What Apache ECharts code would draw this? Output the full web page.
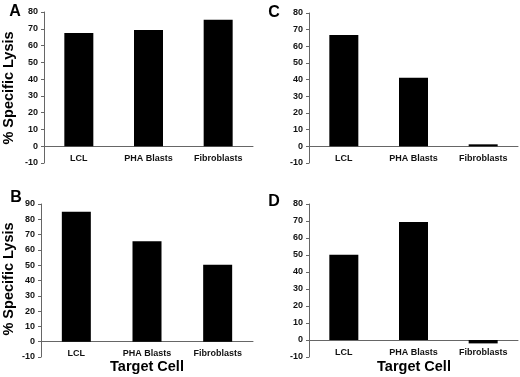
<!DOCTYPE html>
<html>
<head>
<meta charset="utf-8">
<script src="https://cdn.jsdelivr.net/npm/echarts@6/dist/echarts.min.js"></script>
<style>
  html, body { margin: 0; padding: 0; background: #fff; }
  #chart { width: 520px; height: 377px; }
</style>
</head>
<body>
<div id="chart"></div>
<script>
// data
var cells = ["LCL", "PHA Blasts", "Fibroblasts"];
var lysisA = [67.5, 69.3, 75.4];
var lysisB = [84.9, 65.7, 50.3];
var lysisC = [66.8, 41.2, 1.2];
var lysisD = [50.1, 69.4, -2];
var maxA = 80, maxB = 90, maxC = 80, maxD = 80;

var font = "Liberation Sans, Arial, sans-serif";
var grids = [
  { left: 44, top: 12, width: 209, height: 151 },
  { left: 41, top: 204, width: 212, height: 153 },
  { left: 309, top: 13, width: 209, height: 150 },
  { left: 309, top: 204, width: 209, height: 153 }
];
var maxes = [maxA, maxB, maxC, maxD];
var datas = [lysisA, lysisB, lysisC, lysisD];
// labels sit just under the zero line, pulled up from the grid bottom
var labelMargins = [-8.5, -7.5, -8.5, -8.8];

var xAxes = grids.map(function (g, i) {
  return {
    gridIndex: i,
    type: "category",
    data: cells,
    axisLine: { onZero: true, lineStyle: { color: "#666", width: 1 } },
    axisTick: { show: false },
    axisLabel: {
      margin: labelMargins[i],
      interval: 0,
      fontSize: 9,
      fontWeight: "bold",
      fontFamily: font,
      color: "#111"
    }
  };
});

var yAxes = grids.map(function (g, i) {
  return {
    gridIndex: i,
    type: "value",
    min: -10,
    max: maxes[i],
    interval: 10,
    axisLine: { show: true, lineStyle: { color: "#666", width: 1 } },
    axisTick: { show: true, length: 3, lineStyle: { color: "#666" } },
    splitLine: { show: false },
    axisLabel: {
      margin: 6,
      fontSize: 9,
      fontWeight: "bold",
      fontFamily: font,
      color: "#111"
    }
  };
});

var series = datas.map(function (d, i) {
  return {
    type: "bar",
    xAxisIndex: i,
    yAxisIndex: i,
    barWidth: 29,
    itemStyle: { color: "#000" },
    data: d
  };
});

function txt(x, y, s, size, rot) {
  return {
    type: "text",
    x: x,
    y: y,
    rotation: rot || 0,
    style: {
      text: s,
      fontSize: size,
      fontWeight: "bold",
      fontFamily: font,
      fill: "#000",
      textAlign: "center",
      textVerticalAlign: "middle"
    }
  };
}

var chart = echarts.init(document.getElementById("chart"));
chart.setOption({
  animation: false,
  grid: grids,
  xAxis: xAxes,
  yAxis: yAxes,
  series: series,
  graphic: [
    txt(15, 12, "A", 16),
    txt(16, 198, "B", 16),
    txt(274, 13, "C", 16),
    txt(274, 202, "D", 16),
    txt(9, 88, "% Specific Lysis", 14.5, Math.PI / 2),
    txt(9, 279, "% Specific Lysis", 14.5, Math.PI / 2),
    txt(147, 367, "Target Cell", 14.5),
    txt(414, 367, "Target Cell", 14.5)
  ]
});
</script>
</body>
</html>
